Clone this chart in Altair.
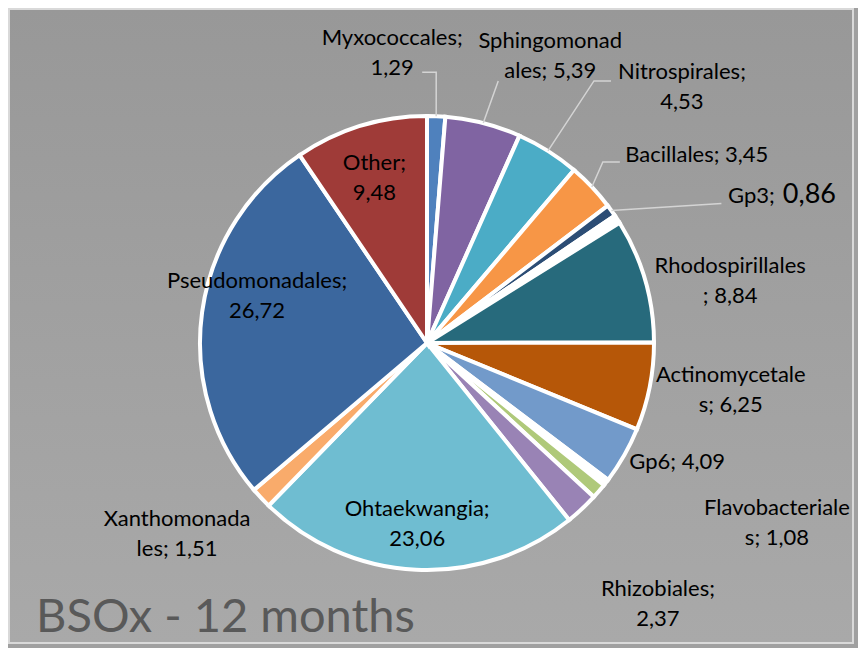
import altair as alt
import pandas as pd
import numpy as np

# ---- data ----
categories = ["Myxococcales", "Sphingomonadales", "Nitrospirales", "Bacillales", "Gp3", "_blank1",
              "Rhodospirillales", "Actinomycetales", "Gp6", "_blank2", "Flavobacteriales",
              "Rhizobiales", "Ohtaekwangia", "Xanthomonadales", "Pseudomonadales", "Other"]
values = [1.29, 5.39, 4.53, 3.45, 0.86, 0.60, 8.84, 6.25, 4.09, 0.48, 1.08, 2.37, 23.06, 1.51, 26.72, 9.48]
colors = ["#4F81BD", "#8064A2", "#4BACC6", "#F79646", "#2C4D75", "#FFFFFF",
          "#276A7C", "#B65708", "#729ACA", "#FFFFFF", "#AFC97A",
          "#9983B5", "#6FBDD1", "#F9AB6B", "#3B679E", "#9F3B38"]
label_texts = ["Myxococcales;\n1,29", "Sphingomonad\nales; 5,39", "Nitrospirales;\n4,53", "Bacillales; 3,45",
               "Gp3;", "", "Rhodospirillales\n; 8,84", "Actinomycetale\ns; 6,25", "Gp6; 4,09", "",
               "Flavobacteriale\ns; 1,08", "Rhizobiales;\n2,37", "Ohtaekwangia;\n23,06", "Xanthomonada\nles; 1,51",
               "Pseudomonadales;\n26,72", "Other;\n9,48"]
extra_value_label = ("Gp3", "0,86")
title_text = "BSOx - 12 months"

# ---- layout (styling / placement only) ----
W, H = 850, 640
CX, CY, R = 419, 335, 227
LH = 30
label_offsets = {  # offset of label block centre from the slice's outer edge point
    "Myxococcales": (-44, -63), "Sphingomonadales": (67, -67), "Nitrospirales": (134, -64),
    "Bacillales": (105, -32), "Gp3": (140, -15), "Rhodospirillales": (85, 1),
    "Actinomycetales": (81, 3), "Gp6": (53, 6), "Flavobacteriales": (178, 32),
    "Rhizobiales": (76, 95), "Ohtaekwangia": (1, -46), "Xanthomonadales": (-84, 36),
    "Pseudomonadales": (55, -16), "Other": (14, 52),
}
extra_offset = (198, -16)
leader_paths = {  # relative elbow/end points from slice edge point
    "Myxococcales": [(0, -44), (-14, -44)],
    "Sphingomonadales": [(15, -42)],
    "Nitrospirales": [(46, -70), (63, -70)],
    "Bacillales": [(11, -25), (28, -25)],
    "Gp3": [(110, -7)],
}

df = pd.DataFrame({"cat": categories, "value": values, "label": label_texts})
df["idx"] = range(len(df))
tot = df["value"].sum()
cum = df["value"].cumsum() - df["value"] / 2
ang = cum / tot * 2 * np.pi
df["ex"] = CX + R * np.sin(ang)
df["ey"] = CY - R * np.cos(ang)

lab_rows = []
for i, c in enumerate(categories):
    t = label_texts[i]
    if not t:
        continue
    dx, dy = label_offsets.get(c, (0, 0))
    n = t.count("\n") + 1
    lab_rows.append({"label": t, "size": 22,
                     "lx": df.loc[i, "ex"] + dx,
                     "ly": df.loc[i, "ey"] + dy - (n - 1) * LH / 2})
ec, ev = extra_value_label
r0 = df[df["cat"] == ec].iloc[0]
lab_rows.append({"label": ev, "size": 27, "lx": r0["ex"] + extra_offset[0], "ly": r0["ey"] + extra_offset[1]})
labdf = pd.DataFrame(lab_rows)

rows = []
for c, pts in leader_paths.items():
    r = df[df["cat"] == c].iloc[0]
    rows.append({"cat": c, "k": 0, "x": r["ex"], "y": r["ey"]})
    for k, (dx, dy) in enumerate(pts, start=1):
        rows.append({"cat": c, "k": k, "x": r["ex"] + dx, "y": r["ey"] + dy})
leaders = pd.DataFrame(rows)

FONT = "Lato"

bg = alt.Chart(pd.DataFrame({"a": [0]})).mark_rect(
    fill=alt.Gradient(gradient="linear",
                      stops=[alt.GradientStop(color="#989898", offset=0),
                             alt.GradientStop(color="#a9a9a9", offset=1)],
                      x1=0, x2=0, y1=0, y2=1),
    stroke="#d9d9d9", strokeWidth=2
).encode(x=alt.value(1), x2=alt.value(W - 5), y=alt.value(1), y2=alt.value(H - 5))

pie = alt.Chart(df).mark_arc(outerRadius=R, stroke="white", strokeWidth=4).encode(
    theta=alt.Theta("value:Q", stack=True),
    color=alt.Color("cat:N", scale=alt.Scale(domain=categories, range=colors), legend=None),
    order=alt.Order("idx:Q"),
    x=alt.value(CX), y=alt.value(CY),
)

lines = alt.Chart(leaders).mark_line(color="#d4d4d4", strokeWidth=1.5).encode(
    x=alt.X("x:Q", scale=None), y=alt.Y("y:Q", scale=None),
    detail="cat:N", order="k:Q",
)

labels = alt.Chart(labdf).mark_text(
    font=FONT, color="#000000", align="center", baseline="middle",
    lineBreak="\n", lineHeight=LH,
).encode(x=alt.X("lx:Q", scale=None), y=alt.Y("ly:Q", scale=None), text="label:N",
         size=alt.Size("size:Q", scale=None))

title = alt.Chart(pd.DataFrame({"t": [title_text]})).mark_text(
    font=FONT, fontSize=47, color="#595959", align="left", baseline="alphabetic",
).encode(x=alt.value(28), y=alt.value(624), text="t:N")

chart = alt.layer(bg, pie, lines, labels, title).properties(
    width=W, height=H, autosize=alt.AutoSizeParams(type="none"), padding=0,
    background="#a0a0a0",
).configure_view(stroke=None)

chart.save("out.html", embed_options={"renderer": "svg", "actions": False})
